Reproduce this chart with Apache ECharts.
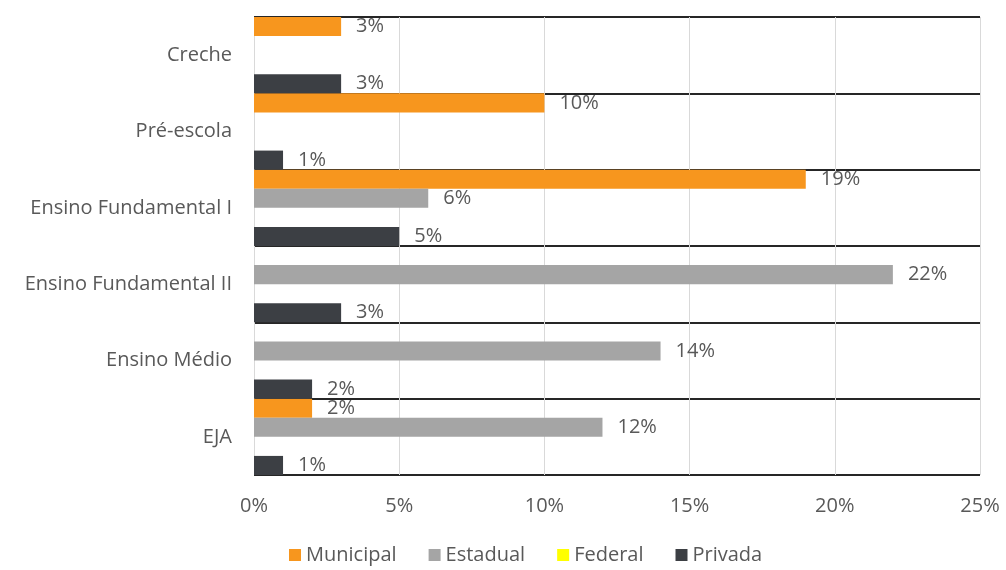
<!DOCTYPE html>
<html>
<head>
<meta charset="utf-8">
<script src="https://cdn.jsdelivr.net/npm/echarts@6/dist/echarts.min.js"></script>
<style>html,body{margin:0;padding:0;background:#fff}#c{width:1006px;height:570px}</style>
</head>
<body>
<div id="c"></div>
<script>
const categories = ['Creche', 'Pré-escola', 'Ensino Fundamental I', 'Ensino Fundamental II', 'Ensino Médio', 'EJA'];
const municipal = [3, 10, 19, 0, 0, 2];
const estadual  = [0, 0, 6, 22, 14, 12];
const federal   = [0, 0, 0, 0, 0, 0];
const privada   = [3, 1, 5, 3, 2, 1];
const xTicks = [0, 5, 10, 15, 20, 25];

const FONT = 'Open Sans';
const TXT = '#595959';
const FS = 20;
const lbl = {
  show: true, position: 'right', distance: 15,
  color: TXT, fontFamily: FONT, fontSize: FS,
  formatter: p => p.value > 0 ? p.value + '%' : ''
};
function mk(name, data, color) {
  return { name, type: 'bar', data, itemStyle: { color }, label: lbl,
           barGap: '0%', barCategoryGap: '0%' };
}
const chart = echarts.init(document.getElementById('c'), null, { renderer: 'canvas' });
chart.setOption({
  animation: false,
  grid: { left: 254, right: 26, top: 17, bottom: 95 },
  xAxis: {
    type: 'value', min: xTicks[0], max: xTicks[xTicks.length - 1], interval: 5,
    axisLine: { show: false }, axisTick: { show: false },
    axisLabel: { color: TXT, fontFamily: FONT, fontSize: FS, margin: 21, formatter: v => v + '%' },
    splitLine: { show: true, lineStyle: { color: '#d9d9d9', width: 1 } }
  },
  yAxis: {
    type: 'category', data: categories, inverse: true,
    axisLine: { show: false }, axisTick: { show: false },
    axisLabel: { color: TXT, fontFamily: FONT, fontSize: FS, margin: 22 },
    splitLine: { show: true, lineStyle: { color: '#262626', width: 2 } }
  },
  legend: {
    bottom: 0, left: 284, itemWidth: 12, itemHeight: 12, itemGap: 32,
    icon: 'rect',
    textStyle: { color: TXT, fontFamily: FONT, fontSize: FS }
  },
  series: [
    mk('Municipal', municipal, '#F7961E'),
    mk('Estadual', estadual, '#A5A5A5'),
    mk('Federal', federal, '#FFFF00'),
    mk('Privada', privada, '#3C3F44')
  ]
});
</script>
</body>
</html>
